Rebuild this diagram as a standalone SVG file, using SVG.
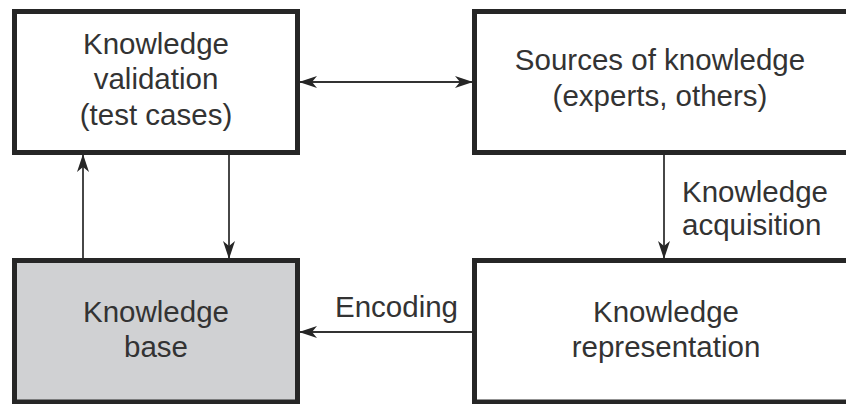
<svg xmlns="http://www.w3.org/2000/svg" width="846" height="404" viewBox="0 0 846 404">
<style>
.box{fill:#fff;stroke:#262626;stroke-width:5}
.kb{fill:#d0d1d3}
.t{font-family:"Liberation Sans",Arial,sans-serif;font-size:29.5px;fill:#333;text-anchor:middle}
.l{font-family:"Liberation Sans",Arial,sans-serif;font-size:29.5px;fill:#333}
.c{fill:none;stroke:#333;stroke-width:1.8}
</style>
<defs>
<marker id="ah" viewBox="0 0 18 12" refX="17" refY="6" markerWidth="18" markerHeight="12" markerUnits="userSpaceOnUse" orient="auto-start-reverse">
<path d="M0,0 L18,6 L0,12 L5,6 Z" fill="#262626"/>
</marker>
</defs>
<rect width="846" height="404" fill="#fff"/>
<g id="connectors">
<line class="c" x1="300" y1="82" x2="472" y2="82" marker-start="url(#ah)" marker-end="url(#ah)"/>
<line class="c" x1="83" y1="258" x2="83" y2="155" marker-end="url(#ah)"/>
<line class="c" x1="229" y1="155" x2="229" y2="258" marker-end="url(#ah)"/>
<line class="c" x1="664" y1="155" x2="664" y2="258" marker-end="url(#ah)"/>
<line class="c" x1="472" y1="332" x2="300" y2="332" marker-end="url(#ah)"/>
<text class="l" x="682" y="202">Knowledge</text>
<text class="l" x="682" y="235">acquisition</text>
<text class="l" x="335" y="317">Encoding</text>
</g>
<g id="validation">
<rect class="box" x="14.5" y="11.5" width="283" height="141"/>
<text class="t" x="156" y="54">Knowledge</text>
<text class="t" x="156" y="89">validation</text>
<text class="t" x="156" y="125">(test cases)</text>
</g>
<g id="sources">
<rect class="box" x="474.5" y="11.5" width="380" height="141"/>
<text class="t" x="660" y="70">Sources of knowledge</text>
<text class="t" x="660" y="106">(experts, others)</text>
</g>
<g id="knowledge-base">
<rect class="box kb" x="14.5" y="260.5" width="283" height="141.5"/>
<text class="t" x="156" y="322">Knowledge</text>
<text class="t" x="156" y="357">base</text>
</g>
<g id="representation">
<rect class="box" x="474.5" y="260.5" width="380" height="141.5"/>
<text class="t" x="666" y="322">Knowledge</text>
<text class="t" x="666" y="357">representation</text>
</g>
</svg>
